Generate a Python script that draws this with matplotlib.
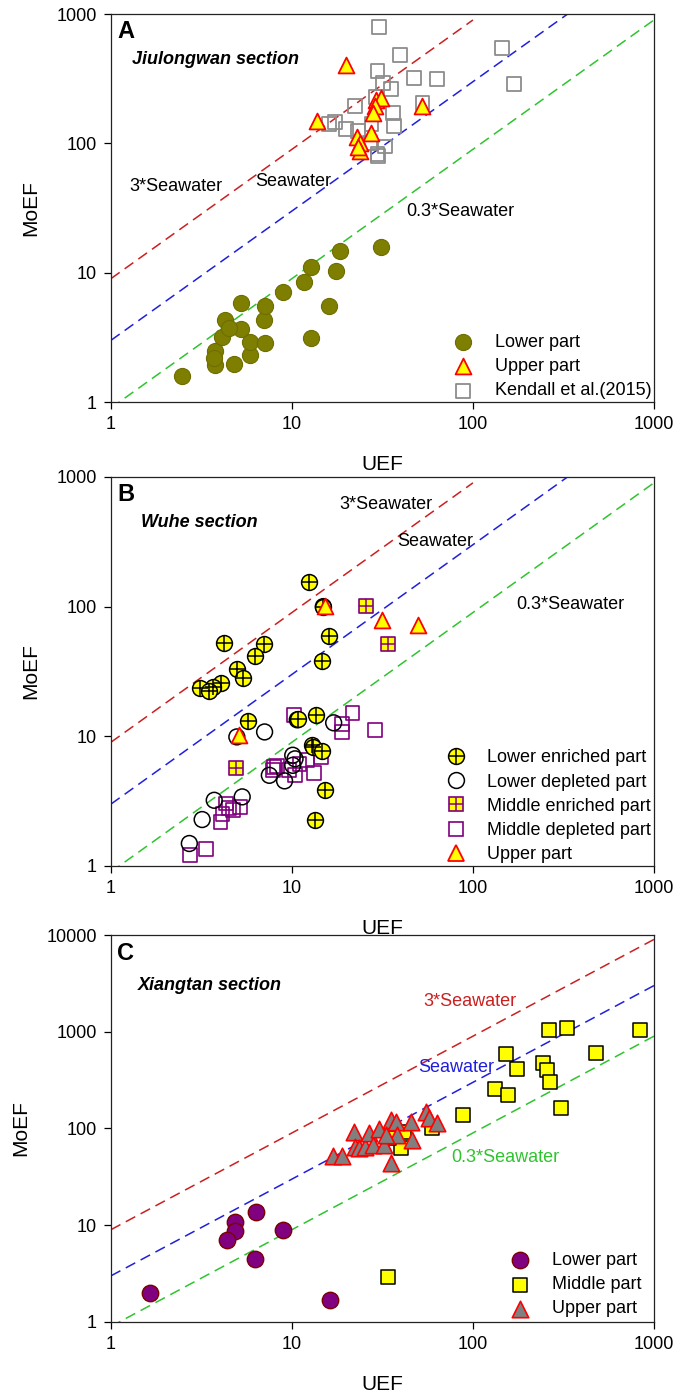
import numpy as np
import matplotlib
matplotlib.use("Agg")
import matplotlib.pyplot as plt
from matplotlib.lines import Line2D
from matplotlib.legend_handler import HandlerTuple

plt.rcParams['font.family'] = ['Liberation Sans', 'DejaVu Sans']

#------------------- panel A: Jiulongwan -------------------#
a_low_u  = [2.47, 3.76, 3.76, 3.7, 4.79, 5.83, 5.83, 7.12, 4.12, 4.27, 5.25, 4.51,
            5.25, 6.97, 7.12, 8.87, 11.6, 12.7, 12.8, 16.0, 17.6, 18.4, 31.1]
a_low_mo = [1.59, 1.95, 2.48, 2.2, 1.98, 2.29, 2.90, 2.87, 3.18, 4.34, 3.64, 3.75,
            5.78, 4.30, 5.51, 7.06, 8.44, 11.1, 3.14, 5.51, 10.3, 14.6, 15.8]
a_up_u   = [19.8, 13.7, 29.1, 31.1, 28.8, 28.0, 52.6, 27.2, 22.9, 23.7, 23.7, 23.2]
a_up_mo  = [404, 150, 217, 223, 195, 171, 195, 121, 113, 100, 86.6, 93]
a_ken_u  = [30.4, 39.6, 145, 169, 29.7, 47.0, 63.1, 31.8, 35.2, 29.1, 22.4, 52.6,
            36.2, 36.8, 27.5, 16.1, 17.2, 20.0, 23.1, 32.6, 29.7, 29.9, 27.0]
a_ken_mo = [798, 482, 550, 287, 365, 319, 313, 292, 264, 230, 196, 204,
            171, 136, 141, 141, 147, 129, 124, 94.6, 83, 80, 100]

#------------------- panel B: Wuhe -------------------#
b_le_u  = [12.4, 14.9, 16.1, 14.7, 4.19, 6.98, 6.28, 4.96, 5.36, 4.03, 3.65, 3.11,
           3.5, 5.69, 10.8, 13.6, 12.9, 13.1, 14.7, 15.2, 13.4]
b_le_mo = [155, 99.4, 59, 37.9, 52.8, 51.8, 41.4, 33.2, 27.9, 25.9, 24.0, 23.6,
           22.5, 13.0, 13.7, 14.5, 8.53, 8.2, 7.66, 3.83, 2.28]
b_ld_u  = [14.9, 7.06, 4.96, 10.7, 17.0, 10.1, 10.4, 7.5, 9.1, 10.1, 3.72, 5.31, 3.19, 2.71]
b_ld_mo = [100, 10.8, 9.89, 13.4, 12.7, 7.14, 6.7, 5.0, 4.53, 5.97, 3.21, 3.41, 2.28, 1.49]
b_me_u  = [25.7, 33.8, 4.91]
b_me_mo = [101, 51.8, 5.70]
b_md_u  = [10.3, 21.6, 19.0, 19.0, 28.6, 14.5, 12.1, 11.0, 13.2, 10.4, 9.6, 8.0,
           8.3, 7.9, 4.32, 5.19, 4.74, 4.13, 4.03, 3.36, 2.73, 4.5]
b_md_mo = [14.5, 15.0, 12.5, 10.8, 11.1, 6.93, 6.53, 6.15, 5.21, 5.00, 5.47, 5.80,
           5.9, 5.47, 3.03, 2.85, 2.69, 2.53, 2.18, 1.36, 1.22, 2.8]
b_up_u  = [15.2, 31.3, 49.5, 5.07]
b_up_mo = [101, 78.5, 71.8, 10.2]

#------------------- panel C: Xiangtan -------------------#
c_low_u  = [1.65, 16.2, 6.33, 4.84, 4.84, 4.35, 8.92, 6.27]
c_low_mo = [2.0, 1.68, 13.7, 10.9, 8.77, 6.98, 8.99, 4.52]
c_mid_u  = [34.0, 262, 330, 833, 152, 176, 245, 256, 266, 477, 132, 157, 305,
            87.6, 59.7, 39.9, 41.4, 34.5]
c_mid_mo = [2.90, 1044, 1095, 1053, 582, 414, 478, 398, 302, 601, 258, 224, 164,
            137, 102, 62.2, 92.4, 78.9]
c_up_u   = [16.9, 18.8, 21.9, 22.2, 23.6, 25.3, 26.7, 27.9, 30.1, 32.1, 35.2, 37.8,
            38.1, 35.2, 45.4, 45.8, 55.0, 57.0, 63.6, 33.0]
c_up_mo  = [51.9, 51.9, 92.4, 64.8, 62.2, 64.8, 88.9, 67.3, 99.8, 67.3, 121, 117,
            85.1, 44.4, 117, 75.9, 148, 127, 114, 85]

seawater = 3.0
factors  = [3, 1, 0.3]
line_col = ["#CC1F1F", "#1F1FDD", "#2FC42F"]
line_lab = ["3*Seawater", "Seawater", "0.3*Seawater"]

YELLOW = "#FFFF00"
PURPLE = "#800080"
FS_TXT = 13

fig = plt.figure(figsize=(6.75, 13.92), dpi=100)
left, width = 0.1644, 0.8044
axA = fig.add_axes([left, 0.7112, width, 0.2787])
axB = fig.add_axes([left, 0.3779, width, 0.2795])
axC = fig.add_axes([left, 0.0503, width, 0.2780])


def base(ax, ymax, letter, section, letter_y, sec_pos, red_xmax):
    ax.set_xscale("log")
    ax.set_yscale("log")
    ax.set_xlim(1, 1000)
    ax.set_ylim(1, ymax)
    xs = np.array([1.0, 1000.0])
    for f, c in zip(factors, line_col):
        xx = xs.copy()
        if f == 3:
            xx[1] = red_xmax
        ax.plot(xx, seawater * f * xx, color=c, lw=1.1, dashes=(7, 4), zorder=1)
    xt = [1, 10, 100, 1000]
    ax.set_xticks(xt)
    ax.set_xticklabels([str(v) for v in xt])
    yt = [10 ** k for k in range(int(np.log10(ymax)) + 1)]
    ax.set_yticks(yt)
    ax.set_yticklabels([str(v) for v in yt])
    ax.minorticks_off()
    ax.tick_params(direction="out", length=5, width=0.9, labelsize=13, pad=5)
    for s in ax.spines.values():
        s.set_linewidth(0.9)
        s.set_color("#222222")
    ax.set_xlabel("UEF", fontsize=15, labelpad=16)
    ax.set_ylabel("MoEF", fontsize=15, labelpad=12)
    ax.text(0.012, letter_y, letter, transform=ax.transAxes, fontsize=17,
            fontweight="bold", va="center", ha="left")
    ax.text(sec_pos[0], sec_pos[1], section, transform=ax.transAxes, fontsize=13,
            fontweight="bold", style="italic", va="center", ha="left")


leg_kw = dict(loc="lower right", frameon=False, fontsize=13, handletextpad=0.75,
              labelspacing=0.4, borderaxespad=0.0, borderpad=0.15)

#------------------------ A ------------------------#
base(axA, 1000, "A", "Jiulongwan section", 0.955, (0.038, 0.882), 100)
axA.text(0.119, 0.556, line_lab[0], transform=axA.transAxes, fontsize=FS_TXT, ha="center", va="center")
axA.text(0.336, 0.569, line_lab[1], transform=axA.transAxes, fontsize=FS_TXT, ha="center", va="center")
axA.text(0.643, 0.490, line_lab[2], transform=axA.transAxes, fontsize=FS_TXT, ha="center", va="center")
axA.scatter(a_ken_u, a_ken_mo, marker="s", s=100, facecolor="none", edgecolor="#8C8C8C",
            lw=1.3, zorder=2, label="Kendall et al.(2015)")
axA.scatter(a_low_u, a_low_mo, marker="o", s=135, facecolor="#7E7E00", edgecolor="#6E6E00",
            lw=0.8, zorder=3, label="Lower part")
axA.scatter(a_up_u, a_up_mo, marker="^", s=130, facecolor=YELLOW, edgecolor="#FF0000",
            lw=1.3, zorder=4, label="Upper part")
h, l = axA.get_legend_handles_labels()
order = [1, 2, 0]
axA.legend([h[i] for i in order], [l[i] for i in order], **leg_kw)

#------------------------ B ------------------------#
base(axB, 1000, "B", "Wuhe section", 0.955, (0.056, 0.882), 100)
axB.text(0.506, 0.929, line_lab[0], transform=axB.transAxes, fontsize=FS_TXT, ha="center", va="center")
axB.text(0.597, 0.835, line_lab[1], transform=axB.transAxes, fontsize=FS_TXT, ha="center", va="center")
axB.text(0.846, 0.672, line_lab[2], transform=axB.transAxes, fontsize=FS_TXT, ha="center", va="center")
axB.scatter(b_md_u, b_md_mo, marker="s", s=100, facecolor="none", edgecolor=PURPLE, lw=1.2, zorder=2)
axB.scatter(b_ld_u, b_ld_mo, marker="o", s=130, facecolor="none", edgecolor="black", lw=1.1, zorder=2)
axB.scatter(b_le_u, b_le_mo, marker="o", s=130, facecolor=YELLOW, edgecolor="black", lw=1.1, zorder=3)
axB.scatter(b_le_u, b_le_mo, marker="+", s=130, color="black", lw=1.1, zorder=3)
axB.scatter(b_me_u, b_me_mo, marker="s", s=100, facecolor=YELLOW, edgecolor=PURPLE, lw=1.2, zorder=3)
axB.scatter(b_me_u, b_me_mo, marker="+", s=100, color=PURPLE, lw=1.1, zorder=3)
axB.scatter(b_up_u, b_up_mo, marker="^", s=130, facecolor=YELLOW, edgecolor="#FF0000", lw=1.3, zorder=4)

hb_le = (Line2D([], [], ls="none", marker="o", ms=11.4, mfc=YELLOW, mec="black", mew=1.1),
         Line2D([], [], ls="none", marker="+", ms=11.4, color="black", mew=1.1))
hb_ld = Line2D([], [], ls="none", marker="o", ms=11.4, mfc="none", mec="black", mew=1.1)
hb_me = (Line2D([], [], ls="none", marker="s", ms=10, mfc=YELLOW, mec=PURPLE, mew=1.2),
         Line2D([], [], ls="none", marker="+", ms=10, color=PURPLE, mew=1.1))
hb_md = Line2D([], [], ls="none", marker="s", ms=10, mfc="none", mec=PURPLE, mew=1.2)
hb_up = Line2D([], [], ls="none", marker="^", ms=11.5, mfc=YELLOW, mec="#FF0000", mew=1.3)
axB.legend([hb_le, hb_ld, hb_me, hb_md, hb_up],
           ["Lower enriched part", "Lower depleted part", "Middle enriched part",
            "Middle depleted part", "Upper part"],
           handler_map={tuple: HandlerTuple(ndivide=1, pad=0)}, **leg_kw)

#------------------------ C ------------------------#
base(axC, 10000, "C", "Xiangtan section", 0.953, (0.050, 0.870), 1000)
axC.text(0.661, 0.827, line_lab[0], transform=axC.transAxes, fontsize=FS_TXT, ha="center",
         va="center", color=line_col[0])
axC.text(0.635, 0.657, line_lab[1], transform=axC.transAxes, fontsize=FS_TXT, ha="center",
         va="center", color=line_col[1])
axC.text(0.726, 0.426, line_lab[2], transform=axC.transAxes, fontsize=FS_TXT, ha="center",
         va="center", color=line_col[2])
axC.scatter(c_low_u, c_low_mo, marker="o", s=140, facecolor="#800080", edgecolor="#7A0000",
            lw=1.0, zorder=3, label="Lower part")
axC.scatter(c_mid_u, c_mid_mo, marker="s", s=110, facecolor=YELLOW, edgecolor="black",
            lw=1.1, zorder=3, label="Middle part")
axC.scatter(c_up_u, c_up_mo, marker="^", s=140, facecolor="#808080", edgecolor="#FF0000",
            lw=1.2, zorder=4, label="Upper part")
axC.legend(**dict(leg_kw, borderaxespad=0.1, bbox_to_anchor=(0.985, 0.0)))

fig.savefig("out.png", dpi=100)
